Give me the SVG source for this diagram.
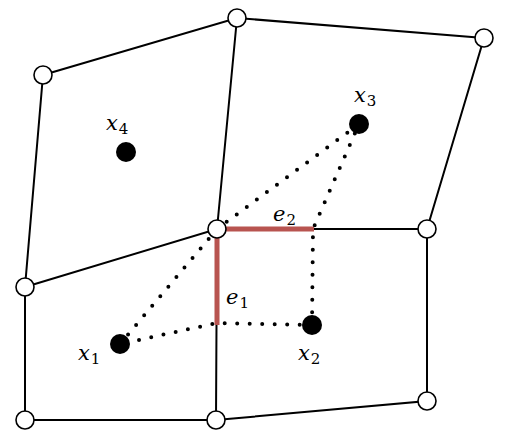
<svg xmlns="http://www.w3.org/2000/svg" width="528" height="446" viewBox="0 0 528 446">
<style>
.edge{stroke:#000;stroke-width:2;fill:none}
.red{stroke:#b85450;stroke-width:5;fill:none}
.dot{stroke:#000;stroke-width:4;stroke-linecap:round;stroke-dasharray:0 12.5;fill:none}
.v{fill:#fff;stroke:#000;stroke-width:1.6}
.p{fill:#000}
.lbl{font-family:"DejaVu Serif",serif;font-style:italic;font-size:21px;fill:#000}
.sub{font-family:"DejaVu Serif",serif;font-style:normal;font-size:15px;fill:#000}
</style>
<rect width="528" height="446" fill="#fff"/>
<g id="connectors">
<path class="edge" d="M43 75L237 18L484 38M43 75L25 287M237 18L217 229M484 38L427 229M25 287L217 229L427 229M217 229L216 420M25 287L25 420L216 420L427 401L427 229"/>
<path class="red" d="M217 325L217 229L314 229"/>
<path class="dot" d="M120 344L217 229L359 124L313 229L312 325L217 323L120 344"/>
</g>
<g id="vA"><circle class="v" cx="237" cy="18" r="9"/></g>
<g id="vB"><circle class="v" cx="484" cy="38" r="9"/></g>
<g id="vC"><circle class="v" cx="43" cy="75" r="9"/></g>
<g id="vD"><circle class="v" cx="217" cy="229" r="9"/></g>
<g id="vE"><circle class="v" cx="427" cy="229" r="9"/></g>
<g id="vF"><circle class="v" cx="25" cy="287" r="9"/></g>
<g id="vG"><circle class="v" cx="25" cy="420" r="9"/></g>
<g id="vH"><circle class="v" cx="216" cy="420" r="9"/></g>
<g id="vI"><circle class="v" cx="427" cy="401" r="9"/></g>
<g id="x1"><circle class="p" cx="120" cy="344" r="10"/><text class="lbl" x="78" y="360">x<tspan class="sub" dx="1" dy="4">1</tspan></text></g>
<g id="x2"><circle class="p" cx="312" cy="325" r="10"/><text class="lbl" x="298" y="360">x<tspan class="sub" dx="1" dy="4">2</tspan></text></g>
<g id="x3"><circle class="p" cx="359" cy="124" r="10"/><text class="lbl" x="354" y="102">x<tspan class="sub" dx="1" dy="4">3</tspan></text></g>
<g id="x4"><circle class="p" cx="126" cy="152" r="10"/><text class="lbl" x="106" y="130">x<tspan class="sub" dx="1" dy="4">4</tspan></text></g>
<g id="e1"><text class="lbl" x="226" y="304">e<tspan class="sub" dx="1" dy="4">1</tspan></text></g>
<g id="e2"><text class="lbl" x="273" y="221">e<tspan class="sub" dx="1" dy="4">2</tspan></text></g>
</svg>
